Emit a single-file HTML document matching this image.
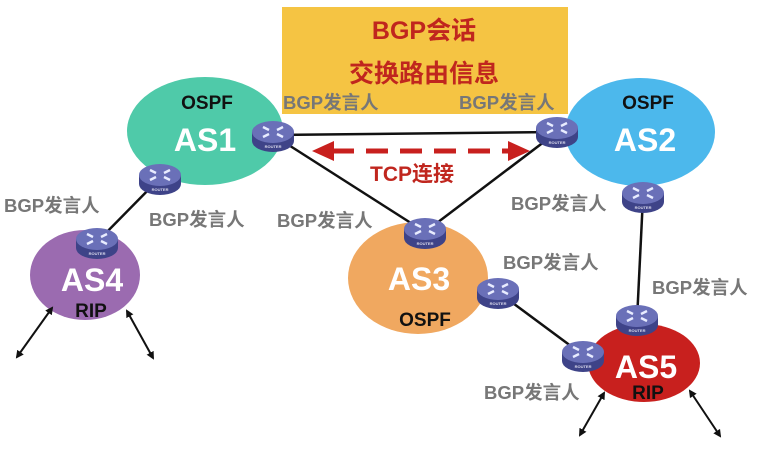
<!DOCTYPE html>
<html><head><meta charset="utf-8"><style>
html,body{margin:0;padding:0;background:#fff;width:766px;height:452px;overflow:hidden}
text{font-family:"Liberation Sans","Noto Sans CJK SC",sans-serif;font-weight:bold}
</style></head><body>
<svg width="766" height="452" viewBox="0 0 766 452" xmlns="http://www.w3.org/2000/svg">
<defs>
<g id="r">
<path d="M-21,-2 v9 a21,11 0 0 0 42,0 v-9 z" fill="#3e4388"/>
<ellipse cx="0" cy="-2" rx="21" ry="11" fill="#6a70b8"/>
<path d="M-10,-7 l6,3 M10,-7 l-6,3 M-10,3 l6,-3 M10,3 l-6,-3" stroke="#e8ecff" stroke-width="2.4"/>
<text x="0" y="14" font-size="4" fill="#dde" text-anchor="middle">ROUTER</text>
</g>
<marker id="ah" markerWidth="8" markerHeight="8" refX="6" refY="4" orient="auto-start-reverse" markerUnits="userSpaceOnUse"><path d="M0,0 L8,4 L0,8 z" fill="#111"/></marker>
</defs>
<rect x="282" y="7" width="286" height="107" fill="#f5c443"/>
<ellipse cx="205" cy="131" rx="78" ry="54" fill="#4fcaa9"/>
<ellipse cx="640" cy="132" rx="75" ry="54" fill="#4cb8ec"/>
<ellipse cx="418" cy="278" rx="70" ry="56" fill="#f0a860"/>
<ellipse cx="85" cy="275" rx="55" ry="45" fill="#9b6bb0"/>
<ellipse cx="644" cy="363" rx="56" ry="39" fill="#c8201e"/>
<g stroke="#111" stroke-width="2.5">
<line x1="273" y1="135" x2="557" y2="132"/>
<line x1="273" y1="135" x2="425" y2="232"/>
<line x1="557" y1="132" x2="425" y2="232"/>
<line x1="160" y1="178" x2="97" y2="242"/>
<line x1="498" y1="292" x2="583" y2="355"/>
<line x1="643" y1="197" x2="637" y2="320"/>
</g>
<g stroke="#111" stroke-width="2" marker-start="url(#ah)" marker-end="url(#ah)">
<line x1="52" y1="308" x2="17" y2="357"/>
<line x1="127" y1="311" x2="153" y2="358"/>
<line x1="604" y1="393" x2="580" y2="435"/>
<line x1="690" y1="391" x2="720" y2="436"/>
</g>
<line x1="332" y1="151" x2="510" y2="151" stroke="#c8201e" stroke-width="5" stroke-dasharray="22,12"/>
<path d="M312,151 L334,141 L334,161 z" fill="#c8201e"/>
<path d="M530,151 L508,141 L508,161 z" fill="#c8201e"/>
<use href="#r" x="273" y="134"/>
<use href="#r" x="557" y="130"/>
<use href="#r" x="160" y="177"/>
<use href="#r" x="97" y="241"/>
<use href="#r" x="425" y="231"/>
<use href="#r" x="498" y="291"/>
<use href="#r" x="643" y="195"/>
<use href="#r" x="637" y="318"/>
<use href="#r" x="583" y="354"/>
<g fill="#c0261e" text-anchor="middle">
<text x="424" y="39" font-size="25">BGP会话</text>
<text x="424" y="82" font-size="25">交换路由信息</text>
<text x="412" y="181" font-size="21">TCP连接</text>
</g>
<g fill="#777" font-size="18.5">
<text x="283" y="109">BGP发言人</text>
<text x="459" y="109">BGP发言人</text>
<text x="4" y="212">BGP发言人</text>
<text x="149" y="226">BGP发言人</text>
<text x="277" y="227">BGP发言人</text>
<text x="503" y="269">BGP发言人</text>
<text x="511" y="210">BGP发言人</text>
<text x="652" y="294">BGP发言人</text>
<text x="484" y="399">BGP发言人</text>
</g>
<g fill="#111" font-size="19" text-anchor="middle">
<text x="207" y="109">OSPF</text>
<text x="648" y="109">OSPF</text>
<text x="425" y="326">OSPF</text>
<text x="91" y="317">RIP</text>
<text x="648" y="399">RIP</text>
</g>
<g fill="#fff" font-size="32" text-anchor="middle">
<text x="205" y="151">AS1</text>
<text x="645" y="151">AS2</text>
<text x="419" y="290">AS3</text>
<text x="92" y="291">AS4</text>
<text x="646" y="378">AS5</text>
</g>
</svg>
</body></html>
